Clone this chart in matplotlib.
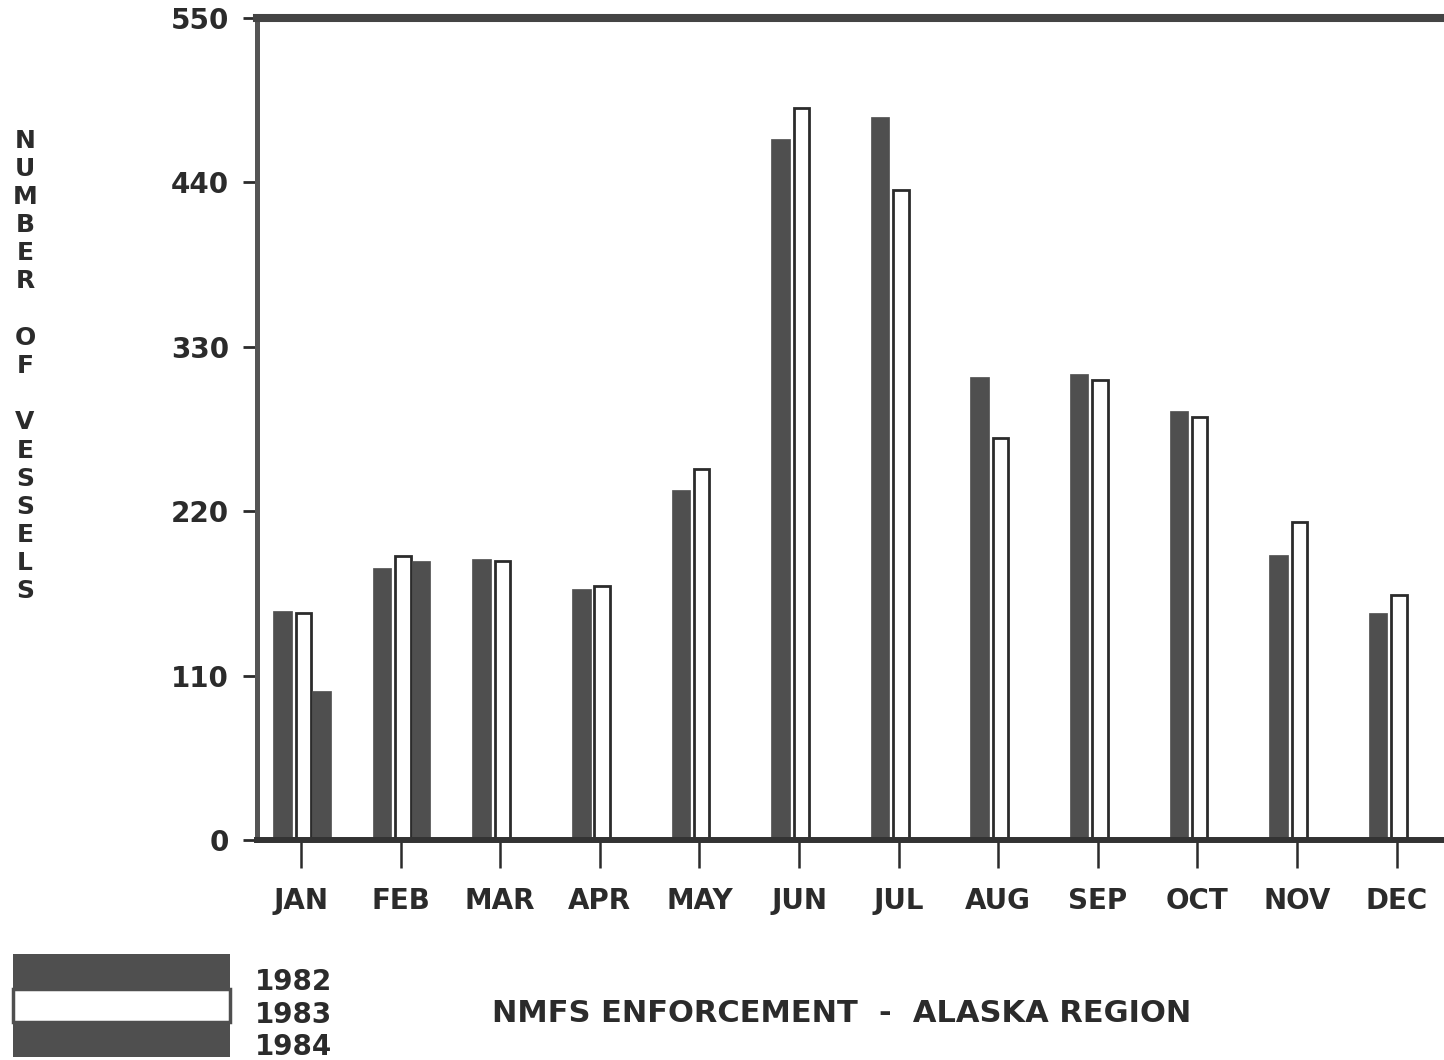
import matplotlib
matplotlib.use("Agg")
import matplotlib.pyplot as plt
from matplotlib.patches import Rectangle
import numpy as np

# vessel counts per month
months = ["JAN", "FEB", "MAR", "APR", "MAY", "JUN",
          "JUL", "AUG", "SEP", "OCT", "NOV", "DEC"]
v1982 = [153, 182, 188, 168, 234, 469, 484, 310, 312, 287, 191, 152]
v1983 = [152, 190, 187, 170, 248, 490, 435, 269, 308, 283, 213, 164]
v1984 = [100, 187]          # only Jan and Feb reported
years = ["1982", "1983", "1984"]
yticks = [0, 110, 220, 330, 440, 550]

DARK = "#4f4f4f"
INK = "#2b2b2b"
W, H = 1444, 1060

plt.rcParams['font.family'] = ['DejaVu Sans']
fig = plt.figure(figsize=(W / 100, H / 100), dpi=100)
fig.patch.set_facecolor("white")

ax = fig.add_axes([257 / W, 1 - 840 / H, (W - 257) / W, 822 / H])

x = np.arange(len(months))
ax.bar(x - 0.186, v1982, width=0.185, color=DARK, edgecolor=DARK, linewidth=0.5)
ax.bar(x + 0.023, v1983, width=0.155, color="white", edgecolor=INK, linewidth=2.0)
ax.bar(x[:len(v1984)] + 0.206, v1984, width=0.185, color=DARK, edgecolor=DARK, linewidth=0.5)

ax.set_xlim(-0.442, 11.476)
ax.set_ylim(0, 550)

ax.set_xticks(x)
ax.set_xticklabels(months)
ax.set_yticks(yticks)
ax.set_yticklabels([str(t) for t in yticks])

for lab in ax.get_xticklabels() + ax.get_yticklabels():
    lab.set_fontsize(20)
    lab.set_fontweight("bold")
    lab.set_color(INK)

ax.tick_params(axis="x", direction="out", length=20, width=1.8, color=INK, pad=14)
ax.tick_params(axis="y", direction="out", length=10, width=2.0, color=INK, pad=10)

ax.spines["right"].set_visible(False)
ax.spines["left"].set_linewidth(3.6)
ax.spines["left"].set_color("#555555")
ax.spines["top"].set_linewidth(5.8)
ax.spines["top"].set_color("#444444")
ax.spines["bottom"].set_linewidth(4.3)
ax.spines["bottom"].set_color("#333333")

# stacked vertical y label
fig.text(25 / W, 1 - 366 / H, "\n".join("NUMBER OF VESSELS"),
         ha="center", va="center", fontsize=18, fontweight="bold",
         color=INK, linespacing=1.22)

# legend block, bottom left
def frect(x0, y0, x1, y1, **kw):
    fig.add_artist(Rectangle((x0 / W, 1 - y1 / H), (x1 - x0) / W, (y1 - y0) / H,
                             transform=fig.transFigure, **kw))

frect(13, 954, 230, 991, facecolor=DARK, edgecolor="none")
frect(13, 1020, 230, 1057, facecolor=DARK, edgecolor="none")
frect(13, 989, 230, 1022, facecolor="white", edgecolor=DARK, linewidth=2.5)

for yr, yc in zip(years, [982, 1015, 1047]):
    fig.text(255 / W, 1 - yc / H, yr, ha="left", va="center",
             fontsize=20, fontweight="bold", color=INK)

fig.text(842 / W, 1 - 1013 / H, "NMFS ENFORCEMENT  -  ALASKA REGION",
         ha="center", va="center", fontsize=22, fontweight="bold", color=INK)

fig.savefig("out.png", dpi=100, facecolor="white")
